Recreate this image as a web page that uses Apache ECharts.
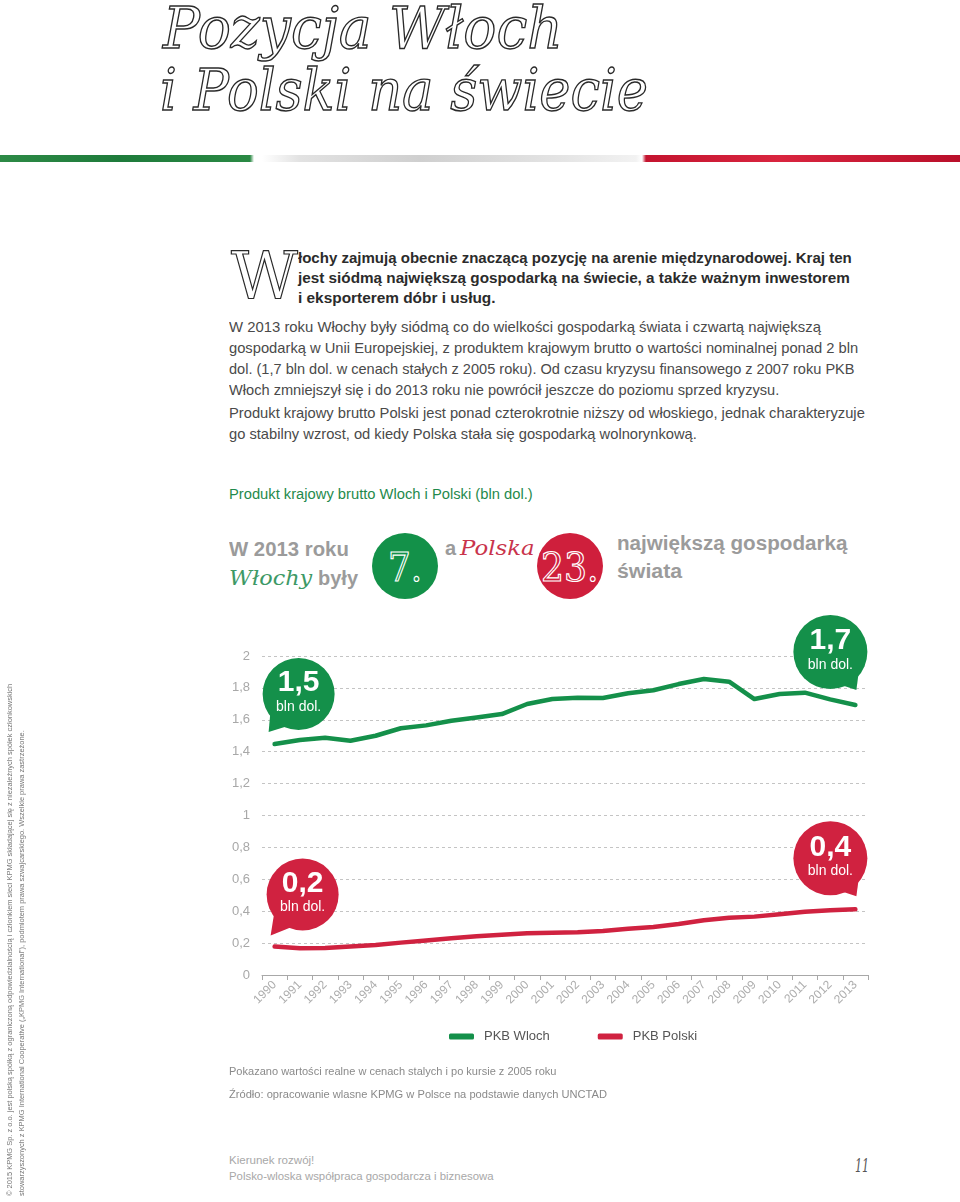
<!DOCTYPE html>
<html>
<head>
<meta charset="utf-8">
<script src="https://cdn.jsdelivr.net/npm/echarts@6/dist/echarts.min.js"></script>
<style>
html,body{margin:0;padding:0;background:#fff;}
#page{position:relative;width:960px;height:1202px;overflow:hidden;font-family:'Liberation Sans',Arial,sans-serif;}
.ln{position:absolute;white-space:nowrap;transform-origin:0 50%;display:inline-block;}
.title{font-family:'DejaVu Serif',serif;font-style:italic;font-size:58px;line-height:58px;color:#fff;-webkit-text-stroke:1.4px #2a2a2a;}
.intro{font-weight:bold;font-size:15px;line-height:20px;color:#2b2b2b;}
.body{font-size:15px;line-height:20px;color:#4a4a4a;}
.hdr{font-size:14px;line-height:18px;color:#1f8a4c;}
.big{font-weight:bold;font-size:20px;line-height:24px;color:#9b9b9b;}
.script{font-family:'DejaVu Serif',serif;font-style:italic;font-size:21px;line-height:24px;}
.foot{font-size:11px;line-height:14px;color:#8a8a8a;}
.foot2{font-size:11px;line-height:14px;color:#a8a8a8;}
.circ{position:absolute;border-radius:50%;}
.num{position:absolute;font-family:'DejaVu Serif',serif;font-size:40px;line-height:40px;color:transparent;-webkit-text-stroke:1.2px #fff;white-space:nowrap;transform-origin:50% 50%;}
#stripe{position:absolute;left:0;top:155px;width:960px;height:7px;
 background:linear-gradient(to right,#2d8a46 0px,#1e7b3b 120px,#2a8944 250px,#ffffff 254px,#ffffff 262px,#e2e2e2 300px,#cfcfcf 420px,#e4e4e4 560px,#f2f2f2 636px,#ffffff 642px,#c4142f 646px,#d9253f 780px,#b90f2a 960px);}
#vert{position:absolute;left:4px;top:1196px;transform-origin:0 0;transform:rotate(-90deg);}
#vert .ln{position:relative;display:block;font-size:8px;line-height:12px;color:#777;transform-origin:0 50%;}
#chart{position:absolute;left:0;top:600px;width:960px;height:470px;}
</style>
</head>
<body>
<div id="page">
  <div id="stripe"></div>
  <div id="chart"></div>
  <div id="vert"></div>
</div>
<script>
// ---------------- DATA ----------------
const years = ['1990','1991','1992','1993','1994','1995','1996','1997','1998','1999','2000','2001','2002','2003','2004','2005','2006','2007','2008','2009','2010','2011','2012','2013'];
const pkbWloch = [1.448,1.473,1.488,1.469,1.500,1.547,1.565,1.594,1.615,1.636,1.699,1.730,1.739,1.737,1.766,1.785,1.824,1.856,1.839,1.730,1.762,1.770,1.728,1.693];
const pkbPolski = [0.178,0.167,0.169,0.178,0.188,0.203,0.217,0.230,0.243,0.253,0.261,0.265,0.268,0.276,0.290,0.301,0.320,0.343,0.359,0.366,0.381,0.397,0.406,0.412];
const seriesNames = ['PKB Wloch','PKB Polski'];
const calloutValues = ['1,5','1,7','0,2','0,4'];
const calloutUnit = 'bln dol.';

// ---------------- PAGE TEXT ----------------
const page = document.getElementById('page');
function addLine(text, x, cy, w, cls, lh, color) {
  const d = document.createElement('div');
  d.className = 'ln ' + cls;
  d.textContent = text;
  d.style.left = x + 'px';
  d.style.top = (cy - lh / 2) + 'px';
  if (color) d.style.color = color;
  if (w) d.dataset.w = w;
  page.appendChild(d);
  return d;
}
// title
addLine('Pozycja Włoch', 163, 28, 400, 'title', 58);
addLine('i Polski na świecie', 160, 90, 488, 'title', 58);
// drop cap
const dc = addLine('W', 231, 276, 67, 'title', 70);
dc.style.fontSize = '66px'; dc.style.lineHeight = '70px'; dc.style.fontStyle = 'normal'; dc.style.webkitTextStroke = '1.2px #2a2a2a';
// intro
addLine('łochy zajmują obecnie znaczącą pozycję na arenie międzynarodowej. Kraj ten', 298, 258, 554, 'intro', 20);
addLine('jest siódmą największą gospodarką na świecie, a także ważnym inwestorem', 298, 278, 552, 'intro', 20);
addLine('i eksporterem dóbr i usług.', 298, 298, 198, 'intro', 20);
// body
addLine('W 2013 roku Włochy były siódmą co do wielkości gospodarką świata i czwartą największą', 229, 327, 592, 'body', 20);
addLine('gospodarką w Unii Europejskiej, z produktem krajowym brutto o wartości nominalnej ponad 2 bln', 229, 348, 629, 'body', 20);
addLine('dol. (1,7 bln dol. w cenach stałych z 2005 roku). Od czasu kryzysu finansowego z 2007 roku PKB', 229, 369, 626, 'body', 20);
addLine('Włoch zmniejszył się i do 2013 roku nie powrócił jeszcze do poziomu sprzed kryzysu.', 229, 390, 550, 'body', 20);
addLine('Produkt krajowy brutto Polski jest ponad czterokrotnie niższy od włoskiego, jednak charakteryzuje', 229, 413, 636, 'body', 20);
addLine('go stabilny wzrost, od kiedy Polska stała się gospodarką wolnorynkową.', 229, 434, 468, 'body', 20);
// chart header
addLine('Produkt krajowy brutto Wloch i Polski (bln dol.)', 229, 494, 304, 'hdr', 18);
addLine('W 2013 roku', 229, 549, 120, 'big', 24);
addLine('Włochy', 229, 578, 83, 'script', 24, '#3d9966');
addLine('były', 318, 578, 40, 'big', 24);
addLine('a', 445, 548, 11, 'big', 24);
addLine('Polska', 460, 548, 75, 'script', 24, '#c9344c');
addLine('największą gospodarką', 617, 543, 230, 'big', 24);
addLine('świata', 617, 571, 65, 'big', 24);
// rank circles
function circle(cx, cy, r, color, txt, tw) {
  const c = document.createElement('div');
  c.className = 'circ';
  c.style.left = (cx - r) + 'px'; c.style.top = (cy - r) + 'px';
  c.style.width = (2 * r) + 'px'; c.style.height = (2 * r) + 'px';
  c.style.background = color;
  page.appendChild(c);
  const t = document.createElement('div');
  t.className = 'num';
  t.textContent = txt;
  t.style.top = (cy - 19) + 'px';
  page.appendChild(t);
  const place = () => {
    const w = t.offsetWidth;
    t.style.left = (cx - w / 2) + 'px';
    t.style.transform = 'scaleX(' + (tw / w) + ')';
  };
  place();
  if (document.fonts && document.fonts.ready) document.fonts.ready.then(place);
}
circle(405, 566, 33, '#139149', '7.', 34);
circle(570, 566, 33, '#cf1f3c', '23.', 58);
// footer
addLine('Pokazano wartości realne w cenach stalych i po kursie z 2005 roku', 229, 1071, 328, 'foot', 14);
addLine('Źródło: opracowanie wlasne KPMG w Polsce na podstawie danych UNCTAD', 229, 1094, 378, 'foot', 14);
addLine('Kierunek rozwój!', 229, 1160, 85, 'foot2', 14);
addLine('Polsko-wloska współpraca gospodarcza i biznesowa', 229, 1176, 265, 'foot2', 14);
const pn = addLine('11', 855, 1165, 14, 'title', 22);
pn.style.fontSize = '19px'; pn.style.lineHeight = '22px'; pn.style.color = '#555'; pn.style.webkitTextStroke = '0';
// vertical copyright
const vert = document.getElementById('vert');
[['© 2015 KPMG Sp. z o.o. jest polską spółką z ograniczoną odpowiedzialnością i członkiem sieci KPMG składającej się z niezależnych spółek członkowskich', 512],
 ['stowarzyszonych z KPMG International Cooperative („KPMG International”), podmiotem prawa szwajcarskiego. Wszelkie prawa zastrzeżone.', 466]]
.forEach(([t, w]) => {
  const s = document.createElement('div');
  s.className = 'ln'; s.textContent = t; s.dataset.w = w;
  s.style.width = 'max-content';
  vert.appendChild(s);
});
function fit() {
  document.querySelectorAll('[data-w]').forEach(el => {
    const w = el.offsetWidth;
    if (w > 0) el.style.transform = 'scaleX(' + (el.dataset.w / w) + ')';
  });
}
fit();
if (document.fonts && document.fonts.ready) document.fonts.ready.then(fit);

// ---------------- CHART ----------------
const GREEN = '#14904a', RED = '#d02240';
const chart = echarts.init(document.getElementById('chart'), null, { renderer: 'canvas' });
chart.setOption({
  animation: false,
  textStyle: { fontFamily: "'Liberation Sans', Arial, sans-serif" },
  grid: { left: 262, right: 92, top: 56, bottom: 95 },
  legend: {
    data: seriesNames, left: 444, top: 425, icon: 'roundRect', itemWidth: 25, itemHeight: 6, itemGap: 48,
    textStyle: { color: '#555', fontSize: 13, padding: [0, 0, 0, 5] }
  },
  xAxis: {
    type: 'category', data: years, boundaryGap: true,
    axisLine: { lineStyle: { color: '#a8a8a8', width: 1 } },
    axisTick: { show: true, length: 5, lineStyle: { color: '#a8a8a8' } },
    axisLabel: { rotate: 45, interval: 0, color: '#adadad', fontSize: 12, margin: 8 }
  },
  yAxis: {
    type: 'value', min: 0, max: 2, interval: 0.2,
    axisLine: { show: false }, axisTick: { show: false },
    axisLabel: { color: '#a8a8a8', fontSize: 13, margin: 12, formatter: v => String(Math.round(v * 10) / 10).replace('.', ',') },
    splitLine: { lineStyle: { color: '#c4c4c4', type: [3, 3], width: 1 } }
  },
  series: [
    { name: seriesNames[0], type: 'line', data: pkbWloch, showSymbol: false, symbol: 'none',
      lineStyle: { color: GREEN, width: 4.5, cap: 'round', join: 'round' }, itemStyle: { color: GREEN } },
    { name: seriesNames[1], type: 'line', data: pkbPolski, showSymbol: false, symbol: 'none',
      lineStyle: { color: RED, width: 4.5, cap: 'round', join: 'round' }, itemStyle: { color: RED } }
  ]
});

function bubble(seriesIndex, dataIndex, data, dcx, dcy, r, tipdx, tipdy, a1, a2, color, label) {
  const p = chart.convertToPixel({ seriesIndex: seriesIndex }, [dataIndex, data[dataIndex]]);
  const cx = p[0] + dcx, cy = p[1] + dcy;
  const rad = a => a * Math.PI / 180;
  const b1 = [cx + 0.9 * r * Math.cos(rad(a1)), cy + 0.9 * r * Math.sin(rad(a1))];
  const b2 = [cx + 0.9 * r * Math.cos(rad(a2)), cy + 0.9 * r * Math.sin(rad(a2))];
  return [
    { type: 'polygon', z: 100, shape: { points: [b1, b2, [p[0] + tipdx, p[1] + tipdy]] }, style: { fill: color } },
    { type: 'circle', z: 100, shape: { cx: cx, cy: cy, r: r }, style: { fill: color } },
    { type: 'text', z: 101, x: cx, y: cy - 11, style: { text: label, fill: '#fff', font: "bold 30px 'Liberation Sans', Arial, sans-serif", align: 'center', verticalAlign: 'middle' } },
    { type: 'text', z: 101, x: cx, y: cy + 13, style: { text: calloutUnit, fill: '#fff', font: "14px 'Liberation Sans', Arial, sans-serif", align: 'center', verticalAlign: 'middle' } }
  ];
}
const last = years.length - 1;
const g = [].concat(
  bubble(0, 0, pkbWloch, 24, -50, 36, -6, -12, 105, 150, GREEN, calloutValues[0]),
  bubble(0, last, pkbWloch, -25, -53, 37, 1, -15, 30, 75, GREEN, calloutValues[1]),
  bubble(1, 0, pkbPolski, 28, -52, 36, -4, -11, 105, 150, RED, calloutValues[2]),
  bubble(1, last, pkbPolski, -25, -51, 37, 1, -13, 30, 75, RED, calloutValues[3])
);
chart.setOption({ graphic: g });
</script>
</body>
</html>
